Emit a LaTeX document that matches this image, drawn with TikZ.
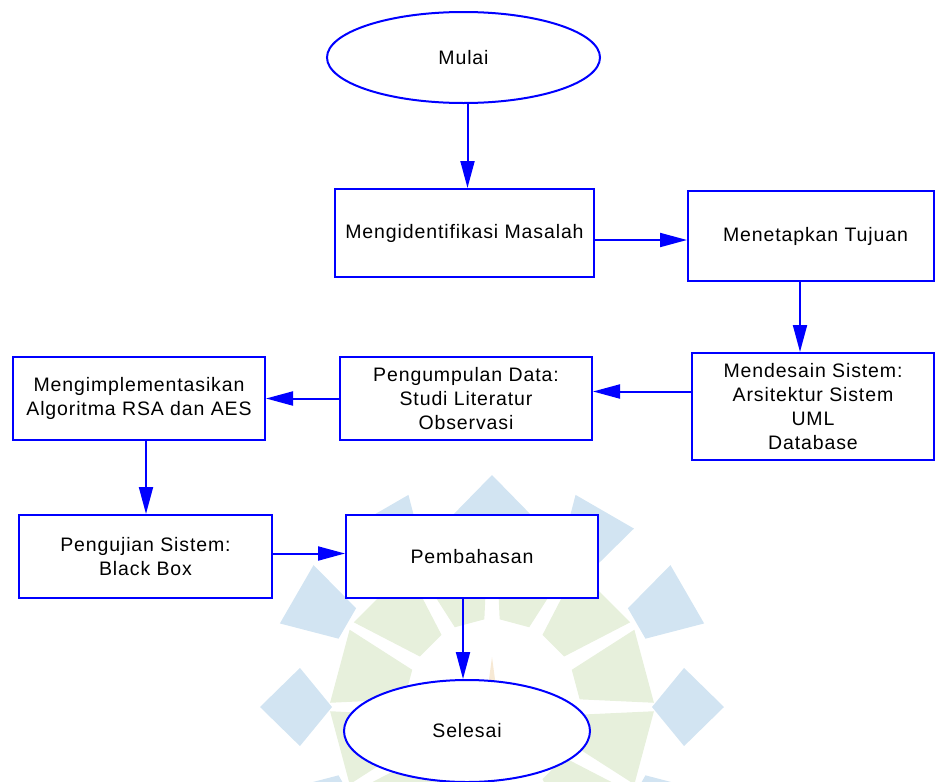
\documentclass[tikz,border=0pt]{standalone}
\usepackage{fontspec}
\setmainfont{Liberation Sans}[LetterSpace=4.5]
\definecolor{flowblue}{RGB}{0,0,255}
\definecolor{markblue}{RGB}{210,228,242}
\definecolor{markgreen}{RGB}{231,240,220}
\definecolor{markorange}{RGB}{247,233,212}
\usetikzlibrary{shapes.geometric, arrows.meta, positioning, calc}

\begin{document}
\begin{tikzpicture}[x=1pt, y=-1pt,
  font=\fontsize{19.5}{24}\selectfont,
  box/.style={draw=flowblue, line width=2pt, fill=white, align=center, inner sep=0pt},
  terminal/.style={ellipse, draw=flowblue, line width=2pt, fill=white, inner sep=0pt},
  flow/.style={draw=flowblue, line width=2pt, -{Triangle[length=27pt, width=14pt]}}]
  \useasboundingbox (0,0) rectangle (935,782);

  \begin{scope}
    \clip (0,0) rectangle (935,782);
    \begin{scope}[shift={(492,707)}]
      \foreach \a in {15,45,...,345}
        \fill[markgreen] (\a-10:88) -- (\a-13.5:162) -- (\a+13.5:162) -- (\a+10:88) -- cycle;
      \fill[markorange] (-8,10) -- (0,-50) -- (8,10) -- cycle;
      \foreach \a in {0,90,180,270}
        \fill[markblue] (\a:160) -- (\a-11.5:196) -- (\a:232) -- (\a+11.5:196) -- cycle;
      \foreach \a in {30,60,120,150,210,240,300,330}
        \fill[markblue] (\a-6:168) -- (\a-8.5:228) -- (\a+8.5:228) -- (\a+6:168) -- cycle;
    \end{scope}
  \end{scope}

  \node[terminal, minimum width=273pt, minimum height=91pt] (mulai) at (463.5,57.5) {Mulai};
  \node[box, minimum width=259pt, minimum height=88pt] (identifikasi) at (464.5,233) {Mengidentifikasi Masalah};
  \node[box, minimum width=246pt, minimum height=90pt] (tujuan) at (811,236) {\hspace*{9pt}Menetapkan Tujuan};
  \node[box, minimum width=242pt, minimum height=107pt] (desain) at (813,406.5) {Mendesain Sistem:\\Arsitektur Sistem\\UML\\Database};
  \node[box, minimum width=252pt, minimum height=83pt] (data) at (466,398.5) {Pengumpulan Data:\\Studi Literatur\\Observasi};
  \node[box, minimum width=252pt, minimum height=83pt] (implementasi) at (139,398.5) {Mengimplementasikan\\Algoritma RSA dan AES};
  \node[box, minimum width=253pt, minimum height=83pt] (pengujian) at (145.5,556.5) {Pengujian Sistem:\\Black Box};
  \node[box, minimum width=252pt, minimum height=83pt] (pembahasan) at (472,556.5) {Pembahasan};
  \node[terminal, minimum width=246pt, minimum height=102pt] (selesai) at (467,731) {Selesai};

  \draw[flow] ([xshift=4pt]mulai.south) -- ([xshift=4pt]mulai.south |- identifikasi.north);
  \draw[flow] ([yshift=-7pt]identifikasi.east) -- ([yshift=-7pt]identifikasi.east -| tujuan.west);
  \draw[flow] ([xshift=-11pt]tujuan.south) -- ([xshift=-11pt]tujuan.south |- desain.north);
  \draw[flow] ([yshift=7pt]data.east -| desain.west) -- ([yshift=7pt]data.east);
  \draw[flow] (data.west) -- (implementasi.east);
  \draw[flow] ([xshift=7pt]implementasi.south) -- ([xshift=7pt]implementasi.south |- pengujian.north);
  \draw[flow] ([yshift=3pt]pengujian.east) -- ([yshift=3pt]pengujian.east -| pembahasan.west);
  \draw[flow] ([xshift=-9pt]pembahasan.south) -- ([xshift=-9pt]pembahasan.south |- selesai.north);
\end{tikzpicture}
\end{document}
